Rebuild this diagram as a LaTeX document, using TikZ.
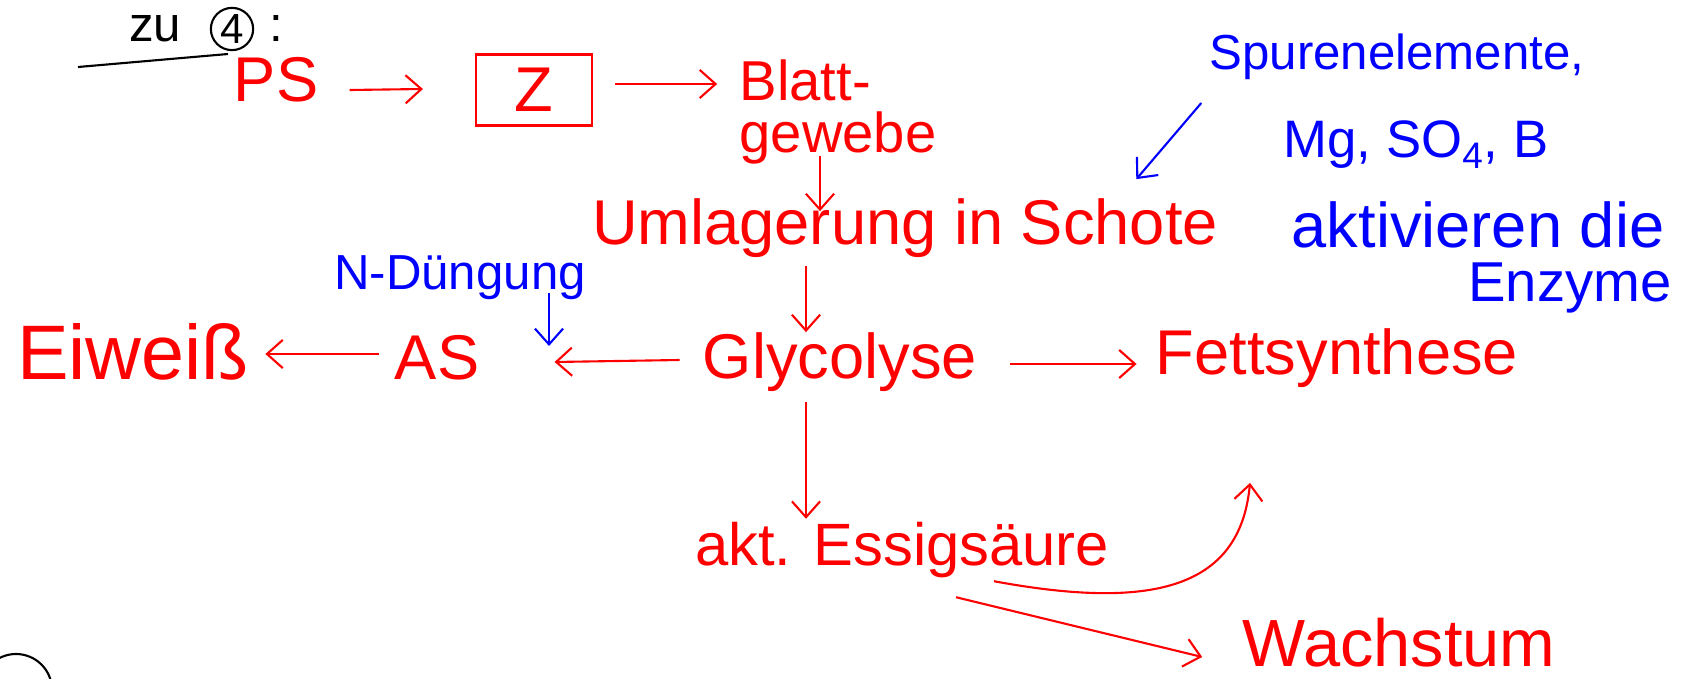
\documentclass[tikz,border=0pt]{standalone}
\usepackage{fontspec}
\setmainfont{Liberation Sans}
\usetikzlibrary{arrows.meta, calc}
\definecolor{penred}{RGB}{255, 0, 0}
\definecolor{penblue}{RGB}{0, 0, 255}

\tikzset{
  redword/.style={text=penred, font=\fontsize{36}{38}\selectfont, inner sep=4pt},
  blueword/.style={text=penblue, font=\fontsize{32}{34}\selectfont, inner sep=4pt},
  redarrow/.style={-{Straight Barb[length=9pt, width=16pt]}, penred, line width=1.2pt},
  bluearrow/.style={-{Straight Barb[length=9pt, width=16pt]}, penblue, line width=1.2pt}
}

\begin{document}
\begin{tikzpicture}[x=0.02cm, y=-0.02cm]
  \useasboundingbox (0,0) rectangle (1704,679);
  \clip (0,0) rectangle (1704,679);

  % Kopfzeile
  \node[font=\fontsize{28}{30}\selectfont, inner sep=2pt] (zu) at (155,29) {zu};
  \node[draw, circle, line width=1.2pt, inner sep=1pt, minimum size=0.76cm, font=\fontsize{24}{26}\selectfont] (vier) at (232,29) {4};
  \node[font=\fontsize{28}{30}\selectfont, inner sep=2pt] (doppelpunkt) at (276,29) {:};
  \draw[line width=1.2pt] (78,67) -- (228,54);

  % Hauptkette
  \node[redword] (ps) at (276,80) {PS};
  \node[redword, draw=penred, line width=1.2pt, minimum width=2.32cm, minimum height=1.42cm] (zucker) at (534,90) {Z};
  \node[redword, align=left, font=\fontsize{32}{30}\selectfont] (blatt) at (838,112) {Blatt-\\gewebe};
  \node[redword] (umlag) at (905,228) {Umlagerung in Schote};
  \node[redword] (glyco) at (840,362) {Glycolyse};
  \node[redword] (fett) at (1337,358) {Fettsynthese};
  \node[redword] (as) at (437,358) {AS};
  \node[redword, font=\fontsize{44}{46}\selectfont] (eiweiss) at (133,352) {Eiweiß};
  \node[redword, font=\fontsize{34}{36}\selectfont] (essig) at (902,550) {akt. Essigsäure};
  \node[redword, font=\fontsize{38}{40}\selectfont] (wachs) at (1399,643) {Wachstum};

  % Blaue Zusaetze
  \node[blueword, font=\fontsize{28}{30}\selectfont] (ndung) at (460,278) {N-Düngung};
  \node[blueword, font=\fontsize{28}{30}\selectfont] (spuren) at (1397,57) {Spurenelemente,};
  \node[blueword, font=\fontsize{30}{32}\selectfont] (stoffe) at (1416,145) {Mg, SO\textsubscript{4}, B};
  \node[blueword, font=\fontsize{36}{38}\selectfont] (aktiv) at (1478,225) {aktivieren die};
  \node[blueword] (enzyme) at (1570,288) {Enzyme};

  % Pfeile
  \draw[redarrow] ($(ps.east)+(24,10)$) -- ($(zucker.west)+(-52,-1)$);
  \draw[redarrow] ($(zucker.east)+(22,-6)$) -- ($(blatt.west |- zucker.east)+(-15,-6)$);
  \draw[redarrow] ($(blatt.south)+(-18,-16)$) -- ($(umlag.north -| blatt.south)+(-18,20)$);
  \draw[redarrow] ($(umlag.south -| glyco.north)+(-34,1)$) -- ($(glyco.north)+(-34,7)$);
  \draw[redarrow] ($(glyco.east)+(26,2)$) -- ($(fett.west |- glyco.east)+(-12,2)$);
  \draw[redarrow] ($(glyco.west)+(-16,-2)$) -- ($(as.east |- glyco.west)+(68,0)$);
  \draw[redarrow] ($(as.west)+(-8,-4)$) -- ($(eiweiss.east |- as.west)+(9,-4)$);
  \draw[redarrow] ($(glyco.south)+(-34,3)$) -- ($(essig.north -| glyco.south)+(-34,4)$);
  \draw[redarrow] ($(essig.south)+(92,-4)$) .. controls (1150,610) and (1240,590) .. ($(fett.south)+(-87,88)$);
  \draw[redarrow] ($(essig.south)+(54,12)$) -- ($(wachs.west)+(-33,14)$);

  \coordinate (ndziel) at (549,346);
  \draw[bluearrow] ($(ndung.south)+(89,-14)$) -- (ndziel);
  \draw[bluearrow] ($(spuren.west)+(-1,46)$) -- ($(umlag.north east)+(-89,-12)$);

  % Kreis (5), angeschnitten
  \draw[line width=1.2pt] (16,690) circle (36);
\end{tikzpicture}
\end{document}
